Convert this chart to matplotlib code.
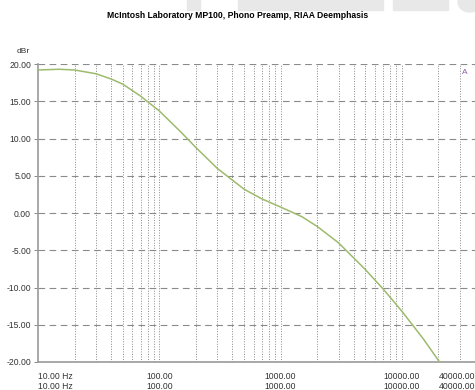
import matplotlib.pyplot as plt
import matplotlib.ticker as ticker
from matplotlib.patches import Rectangle, Ellipse

# measured playback response, dBr
freq = [10, 15, 20, 30, 40, 50, 70, 100, 150, 200, 300, 500, 700,
        1000, 1500, 2000, 3000, 5000, 7000, 10000, 15000, 20000, 25000]
level = [19.2, 19.3, 19.2, 18.7, 18.0, 17.3, 15.7, 13.7, 10.9, 8.8, 6.0, 3.2, 1.9,
         0.8, -0.5, -1.8, -4.0, -7.6, -10.2, -13.2, -16.9, -19.8, -21.8]

yticks = [20, 15, 10, 5, 0, -5, -10, -15, -20]
xticks = [10, 100, 1000, 10000, 40000]
xticklabels = ["10.00 Hz", "100.00", "1000.00", "10000.00", "40000.00"]

plt.rcParams['font.family'] = ['Liberation Sans', 'DejaVu Sans']

fig = plt.figure(figsize=(4.75, 3.9), dpi=100)

# faint page blocks along the top edge
for x0, w in [(187, 13), (238, 145), (393, 55)]:
    fig.patches.append(Rectangle((x0 / 475, 1 - 10 / 390), w / 475, 10 / 390,
                                 transform=fig.transFigure, color='#e8e8e8', zorder=0))
fig.patches.append(Ellipse((470 / 475, 1 - 2 / 390), 24 / 475, 20 / 390,
                           transform=fig.transFigure, color='#e8e8e8', zorder=0))

ax = fig.add_axes([0.08, 0.0718, 0.92, 0.764])

ax.set_xscale('log')
ax.set_xlim(10, 40000)
ax.set_ylim(-20, 20)

# vertical grid: dotted lines on every 1..9 step of each decade
for dec in [10, 100, 1000, 10000]:
    for m in range(1, 10):
        f = dec * m
        if 10 < f < 40000:
            ax.axvline(f, color='#8a8a8a', lw=0.7, ls=(0, (1, 1.6)), zorder=1)

for y in yticks:
    if y > -20:
        ax.axhline(y, color='#8a8a8a', lw=0.8, ls=(0, (6, 4)), zorder=1)

ax.plot(freq, level, color='#9dbb6c', lw=1.1, zorder=3, clip_on=True)

ax.text(33000, 18.9, "A", color='#8a5fa8', fontsize=6, ha='center', va='center')

ax.set_yticks(yticks)
ax.set_yticklabels(["%.2f" % y for y in yticks], fontsize=6.2)
ax.xaxis.set_major_locator(ticker.FixedLocator(xticks))
ax.xaxis.set_minor_locator(ticker.NullLocator())
ax.set_xticklabels([t + "\n" + t for t in xticklabels], fontsize=6.2, linespacing=1.15)
labels = ax.get_xticklabels()
labels[0].set_ha('left')
labels[-1].set_ha('right')

ax.tick_params(axis='y', length=3, width=0.7, color='#888888', pad=2, labelcolor='#333333')
ax.tick_params(axis='x', length=0, pad=7, labelcolor='#333333')

for s in ['top', 'right']:
    ax.spines[s].set_visible(False)
for s in ['left', 'bottom']:
    ax.spines[s].set_color('#999999')
    ax.spines[s].set_linewidth(1.2)

fig.text(0.5, 0.959, "McIntosh Laboratory MP100, Phono Preamp, RIAA Deemphasis",
         ha='center', va='center', fontsize=6.2, fontweight='bold')
fig.text(0.048, 0.867, "dBr", ha='center', va='center', fontsize=6, color='#333333')

fig.savefig('out.png', dpi=100)
